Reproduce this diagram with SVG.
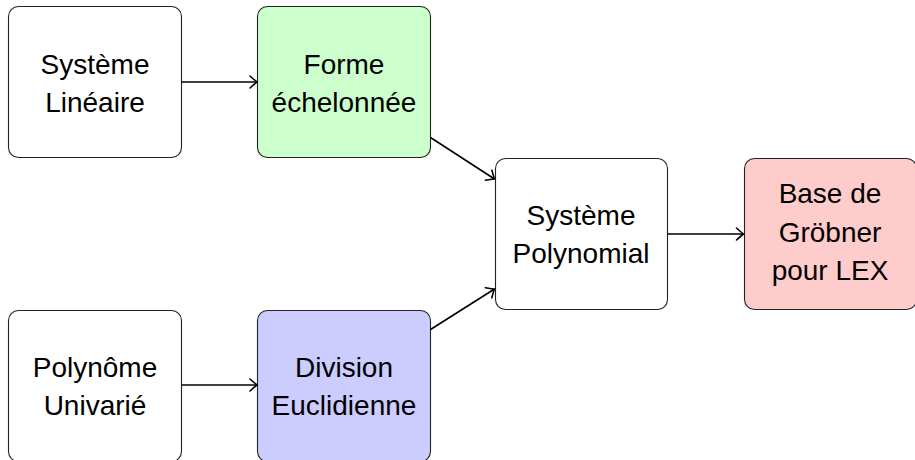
<svg xmlns="http://www.w3.org/2000/svg" width="915" height="460" viewBox="0 0 915 460">
<defs>
<style>
.box{stroke:#222;stroke-width:1.1}
.w{fill:#ffffff}.g{fill:#ccffcc}.b{fill:#ccccff}.r{fill:#ffcccc}
text{font-family:"Liberation Sans",Arial,sans-serif;font-size:28px;fill:#000;text-anchor:middle}
.c{fill:none;stroke:#000;stroke-width:1.6}
</style>
<marker id="ah" viewBox="-9 -7 11 14" refX="0" refY="0" markerWidth="11" markerHeight="14" markerUnits="userSpaceOnUse" orient="auto">
<path d="M -7 -6 Q -1.5 -1 0 0 Q -1.5 1 -7 6" fill="none" stroke="#000" stroke-width="1.6" stroke-linecap="round"/>
</marker>
</defs>
<rect width="915" height="460" fill="#fff"/>
<g id="node-systeme-lineaire"><rect class="box w" x="8.5" y="6.5" width="173" height="151" rx="10"/><text x="95" y="74">Système</text><text x="95" y="112">Linéaire</text></g>
<g id="node-forme-echelonnee"><rect class="box g" x="257.5" y="6.5" width="173" height="151" rx="10"/><text x="344" y="74">Forme</text><text x="344" y="112">échelonnée</text></g>
<g id="node-systeme-polynomial"><rect class="box w" x="495.5" y="158.5" width="172" height="151" rx="10"/><text x="581" y="225">Système</text><text x="581" y="263">Polynomial</text></g>
<g id="node-grobner"><rect class="box r" x="744.5" y="158.5" width="172" height="151" rx="10"/><text x="830" y="203">Base de</text><text x="830" y="242">Gröbner</text><text x="830" y="280">pour LEX</text></g>
<g id="node-polynome-univarie"><rect class="box w" x="8.5" y="310.5" width="173" height="151" rx="10"/><text x="95" y="377">Polynôme</text><text x="95" y="415">Univarié</text></g>
<g id="node-division-euclidienne"><rect class="box b" x="257.5" y="310.5" width="173" height="151" rx="10"/><text x="344" y="377">Division</text><text x="344" y="415">Euclidienne</text></g>
<g id="connectors">
<path class="c" d="M181.5 82 L257 82" marker-end="url(#ah)"/>
<path class="c" d="M181.5 385 L257 385" marker-end="url(#ah)"/>
<path class="c" d="M430.5 137.5 L494.5 179" marker-end="url(#ah)"/>
<path class="c" d="M430.5 329.5 L494.5 289" marker-end="url(#ah)"/>
<path class="c" d="M667.5 234 L743.5 234" marker-end="url(#ah)"/>
</g>
</svg>
